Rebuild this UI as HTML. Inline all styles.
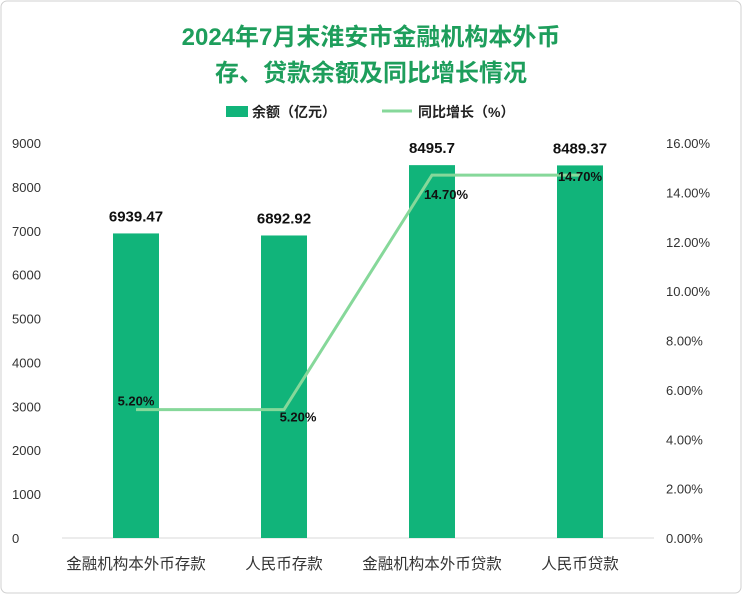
<!DOCTYPE html>
<html><head><meta charset="utf-8"><style>
body{margin:0;background:#fff;}
svg text{font-family:"Liberation Sans","Noto Sans CJK SC",sans-serif;}
</style></head><body>
<svg width="742" height="594" viewBox="0 0 742 594" xmlns="http://www.w3.org/2000/svg">
<rect x="1" y="1" width="740" height="592" rx="6" fill="#fff" stroke="#d0d0d0"/>
<text x="371" y="45" text-anchor="middle" font-size="24" font-weight="bold" fill="#1e9e5c">2024年7月末淮安市金融机构本外币</text>
<text x="371" y="81" text-anchor="middle" font-size="24" font-weight="bold" fill="#1e9e5c">存、贷款余额及同比增长情况</text>
<g>
<rect x="226" y="106" width="22" height="11" fill="#11b47a"/>
<text x="252" y="117" font-size="14" font-weight="bold" fill="#222">余额（亿元）</text>
<line x1="382" y1="111" x2="412" y2="111" stroke="#86d89a" stroke-width="3"/>
<text x="418" y="117" font-size="14" font-weight="bold" fill="#222">同比增长（%）</text>
</g>
<g id="axes"></g>
<g id="marks"></g>
</svg>
<script>
const categories=["金融机构本外币存款","人民币存款","金融机构本外币贷款","人民币贷款"];
const balances=[6939.47,6892.92,8495.7,8489.37];
const balanceLabels=["6939.47","6892.92","8495.7","8489.37"];
const growth=[5.20,5.20,14.70,14.70];
const leftTicks=[0,1000,2000,3000,4000,5000,6000,7000,8000,9000];
const rightTicks=[0,2,4,6,8,10,12,14,16];
const NS="http://www.w3.org/2000/svg";
const plotL=62,plotR=654,plotB=538,plotT=143;
const yL=v=>plotB-(v/9000)*(plotB-plotT);
const yR=v=>plotB-(v/16)*(plotB-plotT);
const step=(plotR-plotL)/categories.length;
const xC=i=>plotL+step*(i+0.5);
function mk(tag,attrs,parent,txt){const e=document.createElementNS(NS,tag);for(const k in attrs)e.setAttribute(k,attrs[k]);if(txt!==undefined)e.textContent=txt;parent.appendChild(e);return e;}
const axes=document.getElementById('axes'),marks=document.getElementById('marks');
const base=mk('line',{x1:plotL,x2:plotR,y1:plotB,y2:plotB,stroke:'#d9d9d9'},axes);


leftTicks.forEach(t=>{const e=mk('text',{x:12,y:yL(t)+5,'font-size':13,fill:'#333'},axes,String(t));

});
rightTicks.forEach(t=>{const e=mk('text',{x:666,y:yR(t)+5,'font-size':13,fill:'#333'},axes,t.toFixed(2)+'%');

});
categories.forEach((c,i)=>{const e=mk('text',{x:xC(i),y:569,'text-anchor':'middle','font-size':15.5,fill:'#333'},axes,c);

});
const bw=46;
balances.forEach((v,i)=>{const r=mk('rect',{x:xC(i)-bw/2,y:yL(v),width:bw,height:plotB-yL(v),fill:'#11b47a'},marks);


const t=mk('text',{x:xC(i),y:yL(v)-12,'text-anchor':'middle','font-size':15,'font-weight':'bold',fill:'#111'},marks,balanceLabels[i]);

});
const pts=growth.map((g,i)=>xC(i)+','+yR(g)).join(' ');
const pl=mk('polyline',{points:pts,fill:'none',stroke:'#86d89a','stroke-width':3},marks);


const offs=[[0,-4],[14,12],[14,24],[0,6]];
growth.forEach((g,i)=>{const t=mk('text',{x:xC(i)+offs[i][0],y:yR(g)+offs[i][1],'text-anchor':'middle','font-size':13,'font-weight':'bold',fill:'#111'},marks,g.toFixed(2)+'%');

});
</script>
</body></html>
